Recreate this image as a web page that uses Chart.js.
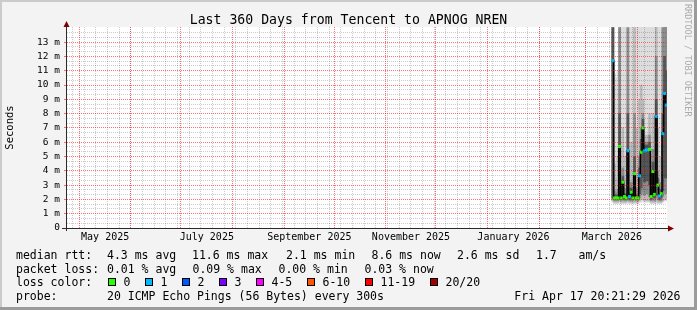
<!DOCTYPE html>
<html>
<head>
<meta charset="utf-8">
<script src="https://cdn.jsdelivr.net/npm/chart.js@4.4.1/dist/chart.umd.min.js"></script>
<style>
  html, body { margin: 0; padding: 0; background: #f3f3f3; }
</style>
</head>
<body>
<canvas id="smoke" width="697" height="310"></canvas>
<script>
const DAY = 86400000;
// graph window: 360 days, x axis counted in days from the left edge
const startTime = Date.UTC(2025, 3, 23, 14, 30);
const spanDays = 360;

const titleText = 'Last 360 Days from Tencent to APNOG NREN';
const monthLabels = ['May 2025', 'July 2025', 'September 2025', 'November 2025', 'January 2026', 'March 2026'];
const labelMonthIndex = [4, 6, 8, 10, 12, 14]; // months counted from Jan 2025
const yTickLabels = ['0', '1 m', '2 m', '3 m', '4 m', '5 m', '6 m', '7 m', '8 m', '9 m', '10 m', '11 m', '12 m', '13 m'];

// one bin per day, first bin 17 March 2026
const firstBin = Date.UTC(2026, 2, 17, 3);
const median = [11.7, 2.1, 2.1, 2.1, 5.7, 2.1, 3.2, 2.2, 2.1, 5.4, 2.2, 2.5, 2.1, 3.8, 2.1, 2.1, 3.65,
  5.3, 7.0, 5.4, 5.45, 5.45, 5.5, 2.2, 3.95, 2.35, 7.8, 3.0, 2.25, 2.4, 6.6, 9.4, 8.6];
const lossClass = [1, 0, 0, 0, 0, 0, 0, 0, 0, 1, 1, 0, 0, 0, 0, 0, 1,
  0, 0, 1, 1, 1, 0, 0, 0, 0, 1, 0, 1, 0, 1, 1, 1];
// smoke bands, outermost first
const outerLo = [1.8, 1.7, 1.7, 1.7, 1.8, 1.7, 1.7, 1.7, 1.7, 1.8, 1.7, 1.7, 1.7, 1.7, 1.7, 1.7, 1.8,
  1.8, 1.9, 1.8, 1.8, 1.8, 1.8, 1.7, 1.7, 1.7, 1.8, 1.7, 1.7, 1.7, 1.8, 1.9, 1.9];
const outerHi = [20, 10.8, 10.5, 11, 20, 20, 20, 20, 20, 20, 20, 20, 20, 20, 20, 20, 20,
  20, 20, 20, 20, 20, 20, 20, 20, 20, 20, 20, 20, 20, 20, 20, 20];
const wideLo = [1.9, 1.8, 1.8, 1.8, 1.9, 1.8, 1.8, 1.8, 1.8, 1.9, 1.8, 1.8, 1.8, 1.8, 1.8, 1.8, 1.9,
  2.0, 2.0, 1.9, 1.9, 1.9, 1.9, 1.8, 1.8, 1.8, 1.9, 1.8, 1.8, 1.8, 1.9, 2.0, 2.0];
const wideHi = [20, 4.5, 3.5, 5, 20, 4, 7, 5, 4, 20, 5, 6, 4, 20, 7, 4, 9,
  10, 9, 6.5, 6.5, 6.5, 8, 5, 8, 5, 20, 7, 5, 5, 20, 20, 20];
const midLo = [2.0, 1.9, 1.9, 1.9, 2.0, 1.9, 2.0, 1.9, 1.9, 2.0, 1.9, 1.9, 1.9, 2.0, 1.9, 1.9, 2.1,
  2.3, 2.5, 2.3, 2.4, 2.4, 2.2, 1.9, 2.0, 1.9, 2.1, 2.0, 1.9, 1.9, 2.2, 2.4, 2.4];
const midHi = [20, 2.6, 2.5, 2.7, 14, 2.7, 4.2, 2.8, 2.6, 14, 2.8, 3.2, 2.6, 8, 2.8, 2.6, 5,
  7, 8, 6, 6, 6, 6.5, 2.9, 5.5, 3.0, 12, 4, 3, 3.2, 14, 20, 20];
const coreLo = [2.1, 2.0, 2.0, 2.0, 2.1, 2.0, 2.2, 2.0, 2.0, 2.1, 2.0, 2.1, 2.0, 2.2, 2.0, 2.0, 2.4,
  2.8, 3.5, 3.2, 3.3, 3.3, 3.0, 2.0, 2.4, 2.1, 2.3, 2.3, 2.0, 2.1, 2.6, 3.5, 3.5];
const coreHi = [14, 2.3, 2.3, 2.3, 8, 2.3, 3.6, 2.4, 2.3, 8, 2.4, 2.8, 2.3, 5, 2.3, 2.3, 4.2,
  6.2, 7.6, 5.8, 5.8, 5.8, 6.0, 2.4, 4.6, 2.6, 9, 3.5, 2.5, 2.7, 8, 12, 11];

// legend texts
const rttStats = ['4.3 ms avg', '11.6 ms max', '2.1 ms min', '8.6 ms now', '2.6 ms sd', '1.7', 'am/s'];
const lossStats = ['0.01 % avg', '0.09 % max', '0.00 % min', '0.03 % now'];
const lossNames = ['0', '1', '2', '3', '4-5', '6-10', '11-19', '20/20'];
const lossColors = ['#26ff00', '#00b8ff', '#0059ff', '#7e00ff', '#ff00ff', '#ff5500', '#ff0000', '#a10000'];
const probeText = '20 ICMP Echo Pings (56 Bytes) every 300s';
const stampText = 'Fri Apr 17 20:21:29 2026';
const watermark = 'RRDTOOL / TOBI OETIKER';

const toDay = t => (t - startTime) / DAY;
const binDays = median.map((v, i) => toDay(firstBin + i * DAY));

// x ticks: month starts carry the red grid, mid months carry the labels
const xTicks = [];
for (let m = 4; m <= 15; m++) xTicks.push({ value: toDay(Date.UTC(2025, m, 1)), text: '' });
labelMonthIndex.forEach((m, i) => {
  const mid = (Date.UTC(2025, m, 1) + Date.UTC(2025, m + 1, 1)) / 2;
  xTicks.push({ value: toDay(mid), text: monthLabels[i] });
});
xTicks.sort((a, b) => a.value - b.value);
const weekTicks = [];
for (let t = Date.UTC(2025, 3, 27); toDay(t) < spanDays; t += 7 * DAY) weekTicks.push({ value: toDay(t) });
const yMinor = [];
for (let i = 1; i <= 42; i++) if (i % 3) yMinor.push({ value: i / 3 });

const MONO = 'DejaVu Sans Mono';
const majorGrid = 'rgba(255, 0, 0, 0.55)';
const minorGrid = 'rgba(0, 0, 0, 0.2)';

function band(lo, hi, color, order) {
  return {
    type: 'bar',
    data: binDays.map((d, i) => ({ x: d, y: [lo[i], hi[i]] })),
    backgroundColor: color,
    borderWidth: 0,
    grouped: false,
    barThickness: 2,
    order: order
  };
}

const rrdLook = {
  id: 'rrdLook',
  beforeDraw(chart) {
    const ctx = chart.ctx, a = chart.chartArea;
    const w = chart.width, h = chart.height;
    ctx.save();
    ctx.fillStyle = '#f3f3f3';
    ctx.fillRect(0, 0, w, h);
    ctx.fillStyle = '#cbcbcb';
    ctx.fillRect(0, 0, w, 2);
    ctx.fillRect(0, 0, 2, h);
    ctx.fillStyle = '#9b9b9b';
    ctx.fillRect(w - 3, 0, 3, h);
    ctx.fillRect(0, h - 3, w, 3);
    ctx.fillStyle = '#ffffff';
    ctx.fillRect(a.left, a.top, a.right - a.left, a.bottom - a.top);
    ctx.restore();
  },
  afterDraw(chart) {
    const ctx = chart.ctx, a = chart.chartArea;
    ctx.save();
    // axes and arrows
    ctx.strokeStyle = '#2a2a2a';
    ctx.lineWidth = 1;
    ctx.beginPath();
    ctx.moveTo(a.left - 0.5, a.bottom + 3);
    ctx.lineTo(a.left - 0.5, a.top - 4);
    ctx.moveTo(a.left - 5, a.bottom + 0.5);
    ctx.lineTo(a.right + 3, a.bottom + 0.5);
    ctx.stroke();
    ctx.fillStyle = '#7f0000';
    ctx.beginPath();
    ctx.moveTo(a.left - 0.5, a.top - 6);
    ctx.lineTo(a.left - 3.5, a.top);
    ctx.lineTo(a.left + 2.5, a.top);
    ctx.closePath();
    ctx.fill();
    ctx.beginPath();
    ctx.moveTo(a.right + 7, a.bottom + 0.5);
    ctx.lineTo(a.right + 1, a.bottom - 2.5);
    ctx.lineTo(a.right + 1, a.bottom + 3.5);
    ctx.closePath();
    ctx.fill();

    // title
    ctx.fillStyle = '#000';
    ctx.textBaseline = 'alphabetic';
    ctx.textAlign = 'center';
    ctx.font = '13.2px "' + MONO + '"';
    ctx.fillText(titleText, chart.width / 2, 23.5);

    // legend rows
    ctx.textAlign = 'left';
    ctx.font = '11.5px "' + MONO + '"';
    const rows = [259, 272.6, 286.2, 299.8];
    ctx.fillText('median rtt:', 16, rows[0]);
    [107, 192, 286, 371.5, 457, 536, 578.5].forEach((x, i) => ctx.fillText(rttStats[i], x, rows[0]));
    ctx.fillText('packet loss:', 16, rows[1]);
    [107, 192.5, 278.5, 364.5].forEach((x, i) => ctx.fillText(lossStats[i], x, rows[1]));
    ctx.fillText('loss color:', 16, rows[2]);
    [108, 145, 182, 219, 256, 307, 365, 430].forEach((x, i) => {
      ctx.fillStyle = lossColors[i];
      ctx.fillRect(x, 278, 8, 8);
      ctx.strokeStyle = '#000';
      ctx.strokeRect(x + 0.5, 278.5, 7, 7);
      ctx.fillStyle = '#000';
      ctx.fillText(lossNames[i], x + 15.5, rows[2]);
    });
    ctx.fillText('probe:', 16, rows[3]);
    ctx.fillText(probeText, 107, rows[3]);
    ctx.textAlign = 'right';
    ctx.fillText(stampText, 680.5, rows[3]);

    // vertical watermark
    ctx.translate(687, 4);
    ctx.rotate(Math.PI / 2);
    ctx.textAlign = 'left';
    ctx.textBaseline = 'middle';
    ctx.font = '8.5px "' + MONO + '"';
    ctx.fillStyle = '#ababab';
    ctx.fillText(watermark, 0, 0);
    ctx.restore();
  }
};

new Chart(document.getElementById('smoke'), {
  type: 'bar',
  data: {
    datasets: [
      band(outerLo, outerHi, '#dddddd', 6),
      band(wideLo, wideHi, '#bababa', 5),
      band(midLo, midHi, '#8c8c8c', 4),
      band(coreLo, coreHi, '#555555', 3),
      {
        type: 'line',
        data: binDays.map((d, i) => ({ x: d, y: median[i] })),
        borderColor: '#000',
        borderWidth: 1.5,
        pointRadius: 0,
        stepped: 'middle',
        order: 2
      },
      {
        type: 'line',
        data: binDays.map((d, i) => ({ x: d, y: median[i] })),
        showLine: false,
        pointStyle: 'rect',
        pointRadius: 2.1,
        pointBorderWidth: 0,
        pointBackgroundColor: c => lossColors[lossClass[c.dataIndex]],
        order: 1
      }
    ]
  },
  options: {
    responsive: false,
    animation: false,
    events: [],
    layout: { padding: { left: 0, top: 27, right: 30, bottom: 62 } },
    plugins: { legend: { display: false }, tooltip: { enabled: false } },
    scales: {
      x: {
        type: 'linear', min: 0, max: spanDays, offset: false,
        afterBuildTicks: s => { s.ticks = xTicks.map(t => ({ value: t.value, text: t.text })); },
        afterFit: s => { s.height = 20; },
        grid: { z: 2, offset: false, color: c => (c.tick && c.tick.text) ? 'rgba(0,0,0,0)' : majorGrid, drawTicks: false },
        border: { display: false, dash: [1, 1] },
        ticks: {
          autoSkip: false, maxRotation: 0, padding: 3, color: '#000',
          font: { family: MONO, size: 10 },
          callback: (v, i, ticks) => ticks[i].text
        }
      },
      xWeek: {
        type: 'linear', position: 'bottom', min: 0, max: spanDays, offset: false,
        afterBuildTicks: s => { s.ticks = weekTicks.map(t => ({ value: t.value })); },
        afterFit: s => { s.height = 0; },
        grid: { z: 1, offset: false, color: minorGrid, drawTicks: false },
        border: { display: false, dash: [1, 1] },
        ticks: { display: false }
      },
      y: {
        type: 'linear', min: 0, max: 14.056,
        afterBuildTicks: s => { s.ticks = yTickLabels.map((t, i) => ({ value: i })); },
        afterFit: s => { s.width = 67; },
        grid: { z: 2, color: majorGrid, drawTicks: true, tickLength: 3, tickColor: majorGrid },
        border: { display: false, dash: [1, 1] },
        ticks: {
          padding: 4, color: '#000',
          font: { family: MONO, size: 9.5 },
          callback: v => yTickLabels[v]
        },
        title: {
          display: true, text: 'Seconds', color: '#000',
          font: { family: MONO, size: 10.5 },
          padding: { top: 4, bottom: 0 }
        }
      },
      yMinor: {
        type: 'linear', position: 'left', min: 0, max: 14.056,
        afterBuildTicks: s => { s.ticks = yMinor.map(t => ({ value: t.value })); },
        afterFit: s => { s.width = 0; },
        grid: { z: 1, color: minorGrid, drawTicks: false },
        border: { display: false, dash: [1, 1] },
        ticks: { display: false }
      }
    }
  },
  plugins: [rrdLook]
});
</script>
</body>
</html>
